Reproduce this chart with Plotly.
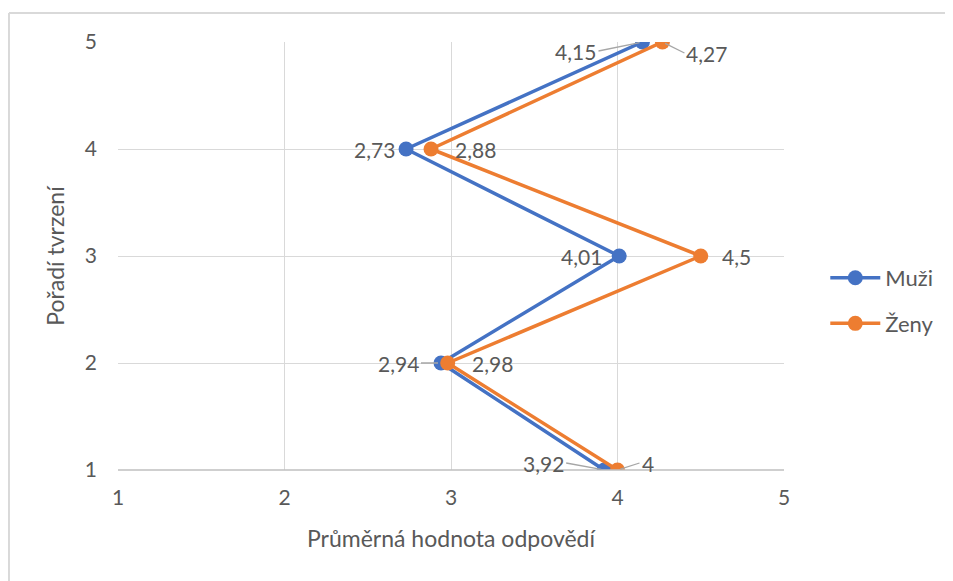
import plotly.graph_objects as go

# data
statements = [1, 2, 3, 4, 5]
muzi = [3.92, 2.94, 4.01, 2.73, 4.15]
zeny = [4.00, 2.98, 4.50, 2.88, 4.27]

BLUE = "#4472C4"
ORANGE = "#ED7D31"
GREY = "#595959"
GRID = "#d9d9d9"
FONT = "Lato, Open Sans, sans-serif"


def fmt(v):
    # czech decimal comma, drop trailing zeros
    return ("%g" % v).replace(".", ",")


fig = go.Figure()
fig.add_trace(go.Scatter(x=muzi, y=statements, name="Muži", mode="lines+markers",
                         line=dict(color=BLUE, width=3.5), marker=dict(size=15, color=BLUE),
                         legendgroup="m"))
fig.add_trace(go.Scatter(x=zeny, y=statements, name="Ženy", mode="lines+markers",
                         line=dict(color=ORANGE, width=3.5), marker=dict(size=15, color=ORANGE),
                         legendgroup="z"))

# label placement per point: (ax, ay, leader line?)
muzi_pos = [(-38, -7, True), (-20, 0, True), (-38, 0, False), (-32, 0, False), (-44, 9, True)]
zeny_pos = [(22, -7, True), (45, 0, False), (36, 0, False), (44, 0, False), (22, 11, True)]

for vals, pos, side in [(muzi, muzi_pos, "right"), (zeny, zeny_pos, "left")]:
    for v, s, (ax, ay, lead) in zip(vals, statements, pos):
        if lead:
            fig.add_annotation(x=v, y=s, text=fmt(v), showarrow=True, arrowhead=0,
                               arrowwidth=1.3, arrowcolor="#a6a6a6", ax=ax, ay=ay,
                               standoff=3, xanchor=side, font=dict(size=21, color=GREY))
        else:
            fig.add_annotation(x=v, y=s, text=fmt(v), showarrow=False,
                               xshift=ax, yshift=-ay, xanchor="center",
                               font=dict(size=21, color=GREY))

# outer chart border: only the top and left edges are in the picture
fig.add_shape(type="line", xref="paper", yref="paper", x0=-0.1637, x1=1.5, y0=1.068, y1=1.068,
              line=dict(color=GRID, width=2), layer="below")
fig.add_shape(type="line", xref="paper", yref="paper", x0=-0.1637, x1=-0.1637, y0=-0.4, y1=1.068,
              line=dict(color=GRID, width=2), layer="below")

fig.update_xaxes(range=[1, 5], dtick=1, showgrid=True, gridcolor=GRID, gridwidth=1.3,
                 zeroline=False, showline=False, ticks="", ticklabelstandoff=13,
                 tickfont=dict(size=21, color=GREY),
                 title=dict(text="Průměrná hodnota odpovědí", font=dict(size=23, color=GREY), standoff=22))
fig.update_yaxes(range=[1, 5], dtick=1, showgrid=True, gridcolor=GRID, gridwidth=1.3,
                 zeroline=False, showline=False, ticks="", ticklabelstandoff=20,
                 tickfont=dict(size=21, color=GREY),
                 title=dict(text="Pořadí tvrzení", font=dict(size=23, color=GREY), standoff=13))

# darker bottom axis line
fig.add_shape(type="line", xref="paper", yref="paper", x0=0, x1=1, y0=0, y1=0,
              line=dict(color="#bfbfbf", width=1.5))

fig.update_layout(
    width=945, height=573,
    margin=dict(l=110, r=169, t=34, b=111),
    plot_bgcolor="white", paper_bgcolor="white",
    font=dict(family=FONT, color=GREY),
    showlegend=True,
    legend=dict(x=1.062, y=0.395, xanchor="left", yanchor="middle",
                font=dict(size=22, color=GREY), tracegroupgap=14, itemwidth=50),
)

fig.write_html("out.html")
